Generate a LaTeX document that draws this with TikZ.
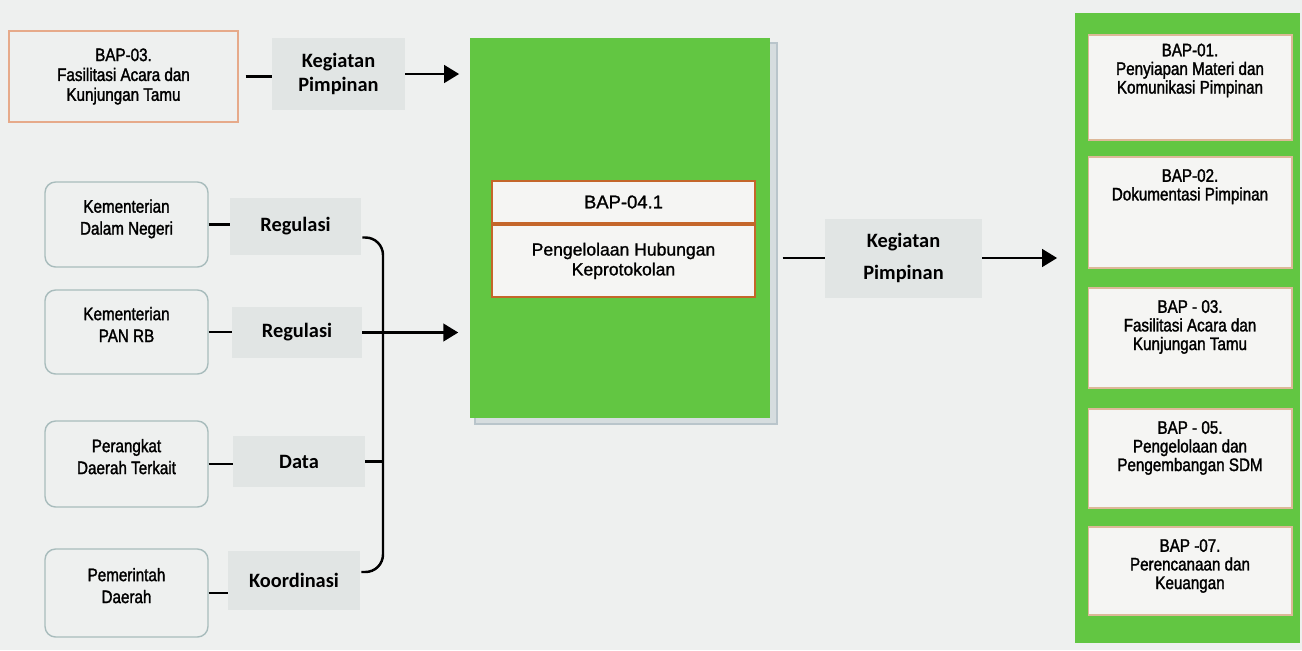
\documentclass[tikz,border=0pt]{standalone}
\usepackage{fontspec}
\setmainfont{Liberation Sans}
\newfontfamily\narrowfont[FakeStretch=0.84, FakeBold=1.6]{Liberation Sans}
\newfontfamily\plainfont[FakeBold=1.2]{Liberation Sans}
\newfontfamily\labelfont{Carlito}
\usetikzlibrary{arrows.meta,calc}
\definecolor{paper}{HTML}{EEF0EF}
\definecolor{tagbg}{HTML}{E1E5E4}
\definecolor{leafgreen}{HTML}{62C642}
\definecolor{boxline}{HTML}{A8BCBC}
\definecolor{rustline}{HTML}{C4662A}
\definecolor{peachline}{HTML}{E6AA8A}
\definecolor{tanline}{HTML}{DDB898}
\definecolor{shade}{HTML}{B9C5CB}
\definecolor{cardbg}{HTML}{F5F5F3}
\begin{document}
\begin{tikzpicture}[
		x=0.02cm, y=-0.02cm,
		tagbox/.style={fill=tagbg, align=center, inner sep=0pt, font=\labelfont\bfseries\fontsize{11.6}{17}\selectfont},
		unitbox/.style={draw=boxline, line width=0.8pt, rounded corners=6pt, minimum width=3.26cm, align=center, font=\narrowfont\fontsize{10.3}{12.5}\selectfont},
		subbox/.style={draw=tanline, fill=cardbg, line width=0.6pt, minimum width=4.08cm, inner sep=0pt},
		subtext/.style={anchor=north, yshift=-7pt, inner sep=0pt, align=center, font=\narrowfont\fontsize{10.3}{10.6}\selectfont},
		link/.style={line width=1.4pt},
		flow/.style={link, -{Triangle[length=8.5pt, width=10pt]}}
	]
	\fill[paper] (0,0) rectangle (1302,650);
	\useasboundingbox (0,0) rectangle (1302,650);

	% sumber kegiatan pimpinan
	\node[draw=peachline, line width=0.7pt, minimum width=4.58cm, minimum height=1.82cm, align=center,
		font=\narrowfont\fontsize{10.3}{11.3}\selectfont] (tl) at (123.5,76.5) {BAP-03.\\Fasilitasi Acara dan\\Kunjungan Tamu};
	\node[tagbox, minimum width=2.66cm, minimum height=1.44cm, font=\labelfont\bfseries\fontsize{11.6}{13.5}\selectfont] (k1) at (338.5,74) {Kegiatan\\Pimpinan};

	% unit eksternal
	\node[unitbox, minimum height=1.7cm] (lb1) at (126.5,224.5) {Kementerian\\Dalam Negeri\vphantom{g}\\[-4pt]};
	\node[unitbox, minimum height=1.68cm] (lb2) at (126.5,332) {Kementerian\\PAN RB\\[-4pt]};
	\node[unitbox, minimum height=1.72cm] (lb3) at (126.5,464) {Perangkat\\Daerah Terkait\\[-4pt]};
	\node[unitbox, minimum height=1.76cm] (lb4) at (126.5,593) {Pemerintah\\Daerah\\[-4pt]};

	\node[tagbox, minimum width=2.62cm, minimum height=1.14cm] (g1) at (295.5,226.5) {Regulasi};
	\node[tagbox, minimum width=2.6cm, minimum height=1.02cm] (g2) at (297,332.5) {Regulasi};
	\node[tagbox, minimum width=2.64cm, minimum height=1.02cm] (g3) at (299,461.5) {Data};
	\node[tagbox, minimum width=2.64cm, minimum height=1.18cm] (g4) at (294,580) {Koordinasi};

	% proses utama
	\fill[shade!45!paper, draw=shade, line width=0.6pt] (475,43) rectangle (777,424);
	\node[fill=leafgreen, minimum width=6cm, minimum height=7.6cm] (main) at (620,228) {};
	\node[draw=rustline, fill=cardbg, line width=1.1pt, minimum width=5.26cm, minimum height=0.84cm,
		font=\plainfont\fontsize{10.5}{12}\selectfont] (hd) at (623.5,202) {BAP-04.1};
	\node[draw=rustline, fill=cardbg, line width=1.1pt, minimum width=5.26cm, minimum height=1.44cm, anchor=north,
		align=center, font=\plainfont\fontsize{10}{11.3}\selectfont] (bd) at (hd.south) {Pengelolaan Hubungan\\Keprotokolan};

	\node[tagbox, minimum width=3.14cm, minimum height=1.58cm, font=\labelfont\bfseries\fontsize{11.6}{18}\selectfont] (k2) at (903.5,258) {Kegiatan\\Pimpinan};

	% unit penerima
	\node[fill=leafgreen, minimum width=4.5cm, minimum height=12.6cm] (rcol) at (1187.5,328) {};
	\node[subbox, minimum height=2.1cm, label={[subtext, yshift=2pt]north:{BAP-01.\\Penyiapan Materi dan\\Komunikasi Pimpinan}}] (r1) at (1190,87.5) {};
	\node[subbox, minimum height=2.22cm, label={[subtext]north:{BAP-02.\\Dokumentasi Pimpinan}}] (r2) at (1190,212.5) {};
	\node[subbox, minimum height=2cm, label={[subtext]north:{BAP - 03.\\Fasilitasi Acara dan\\Kunjungan Tamu}}] (r3) at (1190,338) {};
	\node[subbox, minimum height=1.98cm, label={[subtext]north:{BAP - 05.\\Pengelolaan dan\\Pengembangan SDM}}] (r4) at (1190,458.5) {};
	\node[subbox, minimum height=1.76cm, label={[subtext]north:{BAP -07.\\Perencanaan dan\\Keuangan}}] (r5) at (1190,571) {};

	% hubungan
	\draw[link, shorten <=4pt] (tl.east) -- (tl.east -| k1.west);
	\draw[flow, shorten >=6pt] (k1.east) -- (k1.east -| main.west);

	\draw[link] (lb1.east) -- (lb1.east -| g1.west);
	\draw[link] (lb2.east) -- (lb2.east -| g2.west);
	\draw[link] (lb3.east) -- (lb3.east -| g3.west);
	\draw[link] (lb4.east) -- (lb4.east -| g4.west);

	\coordinate (bus) at (383,0);
	\coordinate (b1) at ($(g1.east)+(1,11)$);
	\coordinate (b4) at ($(g4.east)+(1,-8)$);
	\draw[link, rounded corners=10pt] (b1) -- (b1 -| bus) -- (b4 -| bus) -- (b4);
	\draw[link] (g3.east) -- (g3.east -| bus);
	\draw[flow, shorten >=6.5pt] (g2.east) -- (g2.east -| main.west);

	\draw[link, shorten <=7pt] (main.east |- k2.west) -- (k2.west);
	\draw[flow, shorten >=10pt] (k2.east) -- (k2.east -| rcol.west);
\end{tikzpicture}
\end{document}
